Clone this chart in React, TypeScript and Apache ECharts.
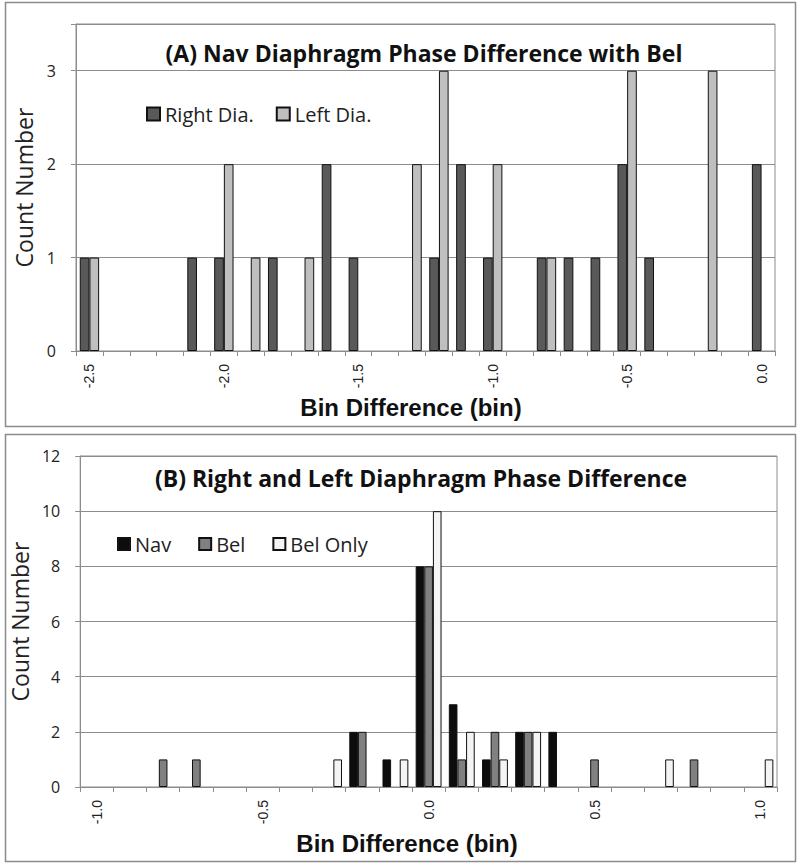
import React, { useEffect, useRef } from "react";
import * as echarts from "echarts";

// Panel A
const catsA = ["-2.5","-2.4","-2.3","-2.2","-2.1","-2.0","-1.9","-1.8","-1.7","-1.6","-1.5","-1.4","-1.3","-1.2","-1.1","-1.0","-0.9","-0.8","-0.7","-0.6","-0.5","-0.4","-0.3","-0.2","-0.1","0.0"];
const rightDia = [1,0,0,0,1,1,0,1,0,2,1,0,0,1,2,1,0,1,1,1,2,1,0,0,0,2];
const leftDia  = [1,0,0,0,0,2,1,0,1,0,0,0,2,3,0,2,0,1,0,0,3,0,0,3,0,0];
const yTicksA = [0, 1, 2, 3];

// Panel B
const catsB = ["-1.0","-0.9","-0.8","-0.7","-0.6","-0.5","-0.4","-0.3","-0.2","-0.1","0.0","0.1","0.2","0.3","0.4","0.5","0.6","0.7","0.8","0.9","1.0"];
const nav     = [0,0,0,0,0,0,0,0,2,1,8,3,1,2,2,0,0,0,0,0,0];
const bel     = [0,0,1,1,0,0,0,0,2,0,8,1,2,2,0,1,0,0,1,0,0];
const belOnly = [0,0,0,0,0,0,0,1,0,1,10,2,1,2,0,0,0,1,0,0,1];
const yTicksB = [0, 2, 4, 6, 8, 10, 12];

const calibri = "'Open Sans', Lato, sans-serif";
const arial = "'Liberation Sans', Arial, sans-serif";

const nz = (a: number[]) => a.map((v) => (v === 0 ? null : v));

export default function App() {
  const ref = useRef<HTMLDivElement>(null);
  useEffect(() => {
    if (!ref.current) return;
    const chart = echarts.init(ref.current, null, { renderer: "svg" });
    const gridLine = { show: true, lineStyle: { color: "#8c8c8c", width: 1 } };
    const xAxisCommon = (cats: string[], idx: number) => ({
      type: "category" as const,
      gridIndex: idx,
      data: cats,
      boundaryGap: true,
      axisLine: { show: true, lineStyle: { color: "#8c8c8c", width: 1 } },
      axisTick: { show: true, interval: 0, length: 5, lineStyle: { color: "#8c8c8c" } },
      axisLabel: { interval: 4, rotate: 90, fontFamily: arial, fontSize: 14, color: "#222", margin: 13 },
      splitLine: { show: false },
    });
    const titleStyle = { fontFamily: calibri, fontWeight: "bold", fontSize: 23, lineHeight: 24, color: "#111" };
    const legendText = { fontFamily: calibri, fontSize: 20, color: "#222" };
    const yLabel = { fontFamily: calibri, fontSize: 16, color: "#222", margin: 20 };
    const yName = { fontFamily: calibri, fontSize: 23, color: "#222" };
    const option: any = {
      animation: false,
      backgroundColor: "#fff",
      title: [
        { text: "(A) Nav Diaphragm Phase Difference with Bel", left: 424, top: 41, padding: 0, textAlign: "center", textStyle: titleStyle },
        { text: "(B) Right and Left Diaphragm Phase Difference", left: 421, top: 466, padding: 0, textAlign: "center", textStyle: titleStyle },
      ],
      legend: [
        {
          data: ["Right Dia.", "Left Dia."],
          left: 146, top: 104, padding: 0, itemWidth: 13, itemHeight: 13, itemGap: 22,
          icon: "rect", textStyle: legendText,
        },
        {
          data: ["Nav", "Bel", "Bel Only"],
          left: 117, top: 534, padding: 0, itemWidth: 12, itemHeight: 12, itemGap: 27,
          icon: "rect", textStyle: legendText,
        },
      ],
      grid: [
        { left: 76, right: 25, top: 24, height: 327, show: true, borderColor: "#8c8c8c", borderWidth: 1 },
        { left: 80, right: 23, top: 456, height: 331, show: true, borderColor: "#8c8c8c", borderWidth: 1 },
      ],
      xAxis: [xAxisCommon(catsA, 0), xAxisCommon(catsB, 1)],
      yAxis: [
        {
          type: "value", gridIndex: 0, min: 0, max: 3.5, interval: 1,
          axisLine: { show: true, lineStyle: { color: "#8c8c8c" } },
          axisTick: { show: true, length: 5, lineStyle: { color: "#8c8c8c" } },
          axisLabel: { ...yLabel, formatter: (v: number) => (yTicksA.includes(v) ? String(v) : "") },
          splitLine: gridLine,
          name: "Count Number", nameLocation: "middle", nameGap: 40, nameTextStyle: yName,
        },
        {
          type: "value", gridIndex: 1, min: 0, max: 12, interval: 2,
          axisLine: { show: true, lineStyle: { color: "#8c8c8c" } },
          axisTick: { show: true, length: 5, lineStyle: { color: "#8c8c8c" } },
          axisLabel: { ...yLabel, formatter: (v: number) => (yTicksB.includes(v) ? String(v) : "") },
          splitLine: gridLine,
          name: "Count Number", nameLocation: "middle", nameGap: 44, nameTextStyle: yName,
        },
      ],
      series: [
        {
          name: "Right Dia.", type: "bar", xAxisIndex: 0, yAxisIndex: 0, data: nz(rightDia),
          barGap: "0%", barCategoryGap: "28%",
          itemStyle: { color: "#595959", borderColor: "#111", borderWidth: 1 },
        },
        {
          name: "Left Dia.", type: "bar", xAxisIndex: 0, yAxisIndex: 0, data: nz(leftDia),
          barGap: "0%", barCategoryGap: "28%",
          itemStyle: { color: "#bfbfbf", borderColor: "#111", borderWidth: 1 },
        },
        {
          name: "Nav", type: "bar", xAxisIndex: 1, yAxisIndex: 1, data: nz(nav),
          barGap: "0%", barCategoryGap: "22%",
          itemStyle: { color: "#0d0d0d", borderColor: "#111", borderWidth: 1 },
        },
        {
          name: "Bel", type: "bar", xAxisIndex: 1, yAxisIndex: 1, data: nz(bel),
          barGap: "0%", barCategoryGap: "22%",
          itemStyle: { color: "#808080", borderColor: "#111", borderWidth: 1 },
        },
        {
          name: "Bel Only", type: "bar", xAxisIndex: 1, yAxisIndex: 1, data: nz(belOnly),
          barGap: "0%", barCategoryGap: "22%",
          itemStyle: { color: "#f4f4f4", borderColor: "#111", borderWidth: 1 },
        },
      ],
      graphic: [
        { type: "rect", shape: { x: 5.5, y: 2.5, width: 790, height: 424 }, style: { fill: "none", stroke: "#8c8c8c", lineWidth: 1.5 }, silent: true },
        { type: "rect", shape: { x: 5.5, y: 434.5, width: 790, height: 427 }, style: { fill: "none", stroke: "#8c8c8c", lineWidth: 1.5 }, silent: true },
        {
          type: "text", x: 411, y: 407,
          style: { text: "Bin Difference (bin)", fontFamily: arial, fontWeight: "bold", fontSize: 24, fill: "#111", textAlign: "center", textVerticalAlign: "middle" },
        },
        {
          type: "text", x: 407, y: 843,
          style: { text: "Bin Difference (bin)", fontFamily: arial, fontWeight: "bold", fontSize: 24, fill: "#111", textAlign: "center", textVerticalAlign: "middle" },
        },
      ],
    };
    chart.setOption(option);
    return () => chart.dispose();
  }, []);
  return <div ref={ref} style={{ position: "fixed", left: 0, top: 0, width: 800, height: 864 }} />;
}
